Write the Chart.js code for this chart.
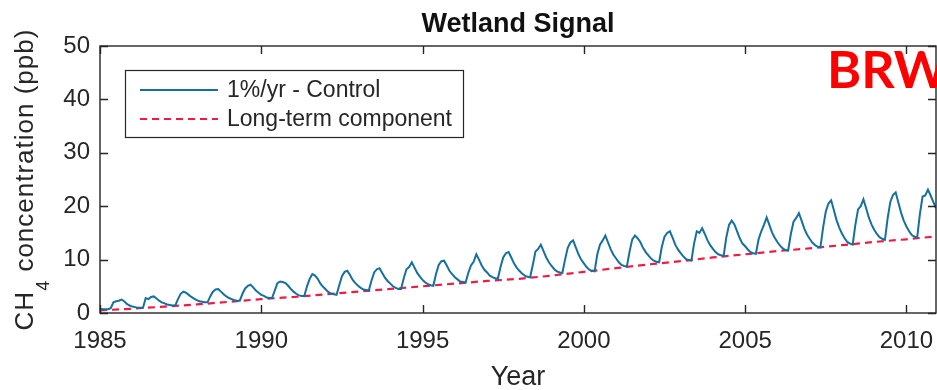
<!DOCTYPE html>
<html>
<head>
<meta charset="utf-8">
<title>Wetland Signal</title>
<script src="https://cdn.jsdelivr.net/npm/chart.js@4.4.1/dist/chart.umd.min.js"></script>
<style>
  html, body { margin: 0; padding: 0; background: #fff; }
  canvas { display: block; }
</style>
</head>
<body>
<canvas id="wetlandChart" width="937" height="390"></canvas>
<script>
// Axis ticks
const yearTicks = [1985, 1990, 1995, 2000, 2005, 2010];
const concTicks = [0, 10, 20, 30, 40, 50];

// 1%/yr control run, monthly CH4 (ppb), Jan..Dec, starting Jan 1985
const startYear = 1985;
const controlMonthly = [
  0.8, 0.7, 0.7, 0.7, 0.9, 2.0, 2.2, 2.3, 2.5, 2.2, 1.7, 1.4,         // 1985
  1.2, 1.1, 1.0, 1.0, 1.0, 2.8, 2.6, 3.0, 3.1, 2.7, 2.3, 2.0,         // 1986
  1.8, 1.6, 1.5, 1.4, 1.4, 2.6, 3.6, 4.0, 3.8, 3.4, 3.0, 2.7,         // 1987
  2.4, 2.2, 2.1, 2.0, 2.0, 3.1, 4.0, 4.4, 4.5, 4.0, 3.5, 3.1,         // 1988
  2.8, 2.6, 2.4, 2.3, 2.3, 3.6, 4.6, 5.1, 5.3, 4.8, 4.2, 3.8,         // 1989
  3.4, 3.2, 2.9, 2.8, 2.8, 4.2, 5.6, 5.9, 5.8, 5.6, 5.1, 4.5,         // 1990
  4.0, 3.6, 3.3, 3.2, 3.2, 5.0, 6.4, 7.3, 7.0, 6.4, 5.5, 4.9,         // 1991
  4.4, 3.9, 3.6, 3.5, 3.4, 5.2, 6.9, 7.7, 7.9, 7.1, 6.2, 5.6,         // 1992
  5.1, 4.7, 4.4, 4.3, 4.2, 6.1, 7.6, 8.2, 8.4, 7.5, 6.6, 6.0,         // 1993
  5.5, 5.0, 4.7, 4.5, 4.5, 6.5, 8.2, 8.6, 9.5, 8.5, 7.5, 6.8,         // 1994
  6.2, 5.7, 5.4, 5.2, 5.1, 7.3, 9.0, 9.7, 9.8, 8.9, 7.9, 7.3,         // 1995
  6.7, 6.3, 5.9, 5.8, 5.7, 7.5, 8.9, 9.6, 11.0, 10.0, 8.9, 8.1,       // 1996
  7.6, 7.0, 6.7, 6.5, 6.4, 8.6, 10.4, 11.2, 11.4, 10.4, 9.3, 8.5,     // 1997
  7.9, 7.4, 7.0, 6.8, 6.7, 9.0, 11.5, 12.0, 12.8, 11.6, 10.4, 9.5,    // 1998
  8.8, 8.2, 7.8, 7.6, 7.5, 10.0, 12.2, 13.2, 13.6, 12.3, 11.0, 10.0,  // 1999
  9.3, 8.6, 8.1, 7.9, 7.8, 11.0, 12.8, 13.6, 14.5, 13.2, 11.9, 10.9,  // 2000
  10.2, 9.5, 9.0, 8.8, 8.7, 11.5, 13.8, 14.5, 14.0, 13.3, 12.2, 11.4, // 2001
  10.8, 10.2, 9.8, 9.6, 9.5, 12.4, 14.3, 15.0, 15.3, 14.1, 12.8, 11.9, // 2002
  11.2, 10.6, 10.1, 9.9, 9.8, 13.0, 15.3, 15.0, 15.9, 14.8, 13.6, 12.7, // 2003
  12.0, 11.4, 11.0, 10.8, 10.7, 14.2, 16.5, 17.3, 16.6, 15.3, 14.0, 13.0, // 2004
  12.5, 11.9, 11.4, 11.2, 11.1, 13.8, 15.3, 16.5, 17.9, 16.5, 15.1, 14.1, // 2005
  13.3, 12.6, 12.1, 11.8, 11.7, 14.8, 17.1, 17.8, 18.7, 17.3, 15.8, 14.7, // 2006
  13.9, 13.2, 12.7, 12.4, 12.3, 16.0, 19.0, 20.5, 21.1, 19.3, 17.4, 16.0, // 2007
  14.9, 14.0, 13.3, 13.0, 12.8, 16.5, 19.4, 20.0, 21.3, 19.6, 17.9, 16.6, // 2008
  15.6, 14.8, 14.2, 13.9, 13.7, 17.7, 20.8, 22.1, 22.6, 20.7, 18.8, 17.3, // 2009
  16.2, 15.3, 14.6, 14.3, 14.1, 18.5, 21.8, 22.0, 23.1, 22.0, 20.8, 19.6  // 2010
];

// Long-term component, value at the start of each year
const longTermYears = [
  1985, 1986, 1987, 1988, 1989, 1990, 1991, 1992, 1993, 1994, 1995, 1996, 1997, 1998,
  1999, 2000, 2001, 2002, 2003, 2004, 2005, 2006, 2007, 2008, 2009, 2010, 2011
];
const longTermValues = [
  0.5, 0.8, 1.2, 1.6, 2.1, 2.6, 3.0, 3.5, 4.0, 4.5, 5.0, 5.5, 6.0, 6.4,
  7.0, 7.7, 8.4, 9.1, 9.7, 10.4, 11.0, 11.6, 12.1, 12.7, 13.3, 13.8, 14.4
];

const FONT = '"Liberation Sans", Arial, Helvetica, sans-serif';
const axisColor = '#262626';
const controlColor = '#16709f';
const trendColor = '#ee1c45';

const controlPoints = controlMonthly.map((v, i) => ({ x: startYear + i / 12, y: v }));
const trendPoints = longTermYears.map((yr, i) => ({ x: yr, y: longTermValues[i] }));
const lastTime = controlPoints[controlPoints.length - 1].x;

Chart.defaults.font.family = FONT;
Chart.defaults.color = axisColor;

// Box, inward ticks, legend and text labels in the MATLAB look
const matlabFrame = {
  id: 'matlabFrame',
  afterDatasetsDraw(chart) {
    const { ctx, chartArea: a, scales: { x, y } } = chart;
    const tickLen = 8;
    ctx.save();

    ctx.strokeStyle = axisColor;
    ctx.lineWidth = 1.4;
    ctx.strokeRect(a.left, a.top, a.right - a.left, a.bottom - a.top);

    ctx.beginPath();
    x.ticks.forEach(t => {
      const px = Math.round(x.getPixelForValue(t.value)) + 0.5;
      ctx.moveTo(px, a.bottom); ctx.lineTo(px, a.bottom - tickLen);
      ctx.moveTo(px, a.top); ctx.lineTo(px, a.top + tickLen);
    });
    y.ticks.forEach(t => {
      const py = Math.round(y.getPixelForValue(t.value)) + 0.5;
      ctx.moveTo(a.left, py); ctx.lineTo(a.left + tickLen, py);
      ctx.moveTo(a.right, py); ctx.lineTo(a.right - tickLen, py);
    });
    ctx.stroke();

    // legend box
    const lx = 125, ly = 70, lw = 338, lh = 67;
    ctx.fillStyle = '#fff';
    ctx.fillRect(lx, ly, lw, lh);
    ctx.lineWidth = 1.2;
    ctx.strokeRect(lx + 0.5, ly + 0.5, lw, lh);
    ctx.font = '23px ' + FONT;
    ctx.textBaseline = 'middle';
    ctx.textAlign = 'left';
    chart.data.datasets.forEach((ds, i) => {
      const rowY = ly + 20 + i * 29;
      ctx.beginPath();
      ctx.strokeStyle = ds.borderColor;
      ctx.lineWidth = ds.borderWidth;
      ctx.setLineDash(ds.borderDash || []);
      ctx.moveTo(lx + 15, rowY);
      ctx.lineTo(lx + 93, rowY);
      ctx.stroke();
      ctx.setLineDash([]);
      ctx.fillStyle = axisColor;
      ctx.fillText(ds.label, lx + 102, rowY + 1);
    });

    const midX = (a.left + a.right) / 2;
    const midY = (a.top + a.bottom) / 2;

    // title
    ctx.fillStyle = '#111';
    ctx.textBaseline = 'alphabetic';
    ctx.textAlign = 'center';
    ctx.font = 'bold 27px ' + FONT;
    ctx.fillText('Wetland Signal', midX, 32);

    // x axis title
    ctx.fillStyle = axisColor;
    ctx.font = '27px ' + FONT;
    ctx.fillText('Year', midX, 385);

    // y axis title with subscript
    ctx.save();
    ctx.translate(33, midY);
    ctx.rotate(-Math.PI / 2);
    ctx.textAlign = 'left';
    ctx.letterSpacing = '1px';
    const big = '26px ' + FONT, small = '18px ' + FONT;
    ctx.font = big;
    const w1 = ctx.measureText('CH').width;
    const w3 = ctx.measureText(' concentration (ppb)').width;
    ctx.font = small;
    const w2 = ctx.measureText('4').width;
    let sx = -(w1 + w2 + w3) / 2;
    ctx.font = big;
    ctx.fillText('CH', sx, 0);
    ctx.font = small;
    ctx.fillText('4', sx + w1, 16);
    ctx.font = big;
    ctx.fillText(' concentration (ppb)', sx + w1 + w2, 0);
    ctx.restore();

    // site tag
    ctx.textAlign = 'left';
    ctx.fillStyle = '#ff0000';
    ctx.font = 'bold 52px Lato, "Open Sans", sans-serif';
    ctx.fillText('BRW', 827, 88);

    ctx.restore();
  }
};

new Chart(document.getElementById('wetlandChart'), {
  type: 'line',
  data: {
    datasets: [
      {
        label: '1%/yr - Control',
        data: controlPoints,
        borderColor: controlColor,
        borderWidth: 2,
        pointRadius: 0,
        tension: 0,
        fill: false
      },
      {
        label: 'Long-term component',
        data: trendPoints,
        borderColor: trendColor,
        borderWidth: 2.2,
        borderDash: [7, 5],
        pointRadius: 0,
        tension: 0,
        fill: false
      }
    ]
  },
  options: {
    responsive: false,
    animation: false,
    layout: { padding: { left: 0, top: 46, right: 1, bottom: 0 } },
    plugins: {
      legend: { display: false },
      title: { display: false },
      tooltip: { enabled: false }
    },
    scales: {
      x: {
        type: 'linear',
        min: startYear,
        max: lastTime,
        grid: { display: false, drawTicks: false },
        border: { display: false },
        afterBuildTicks: scale => { scale.ticks = yearTicks.map(v => ({ value: v })); },
        afterFit: scale => {
          scale.height = 77;
          scale.paddingLeft = 0;
          scale.paddingRight = 0;
        },
        ticks: {
          autoSkip: false,
          maxRotation: 0,
          padding: 14,
          font: { size: 24 },
          callback: v => String(v)
        }
      },
      y: {
        min: 0,
        max: 50,
        grid: { display: false, drawTicks: false },
        border: { display: false },
        afterBuildTicks: scale => { scale.ticks = concTicks.map(v => ({ value: v })); },
        afterFit: scale => {
          scale.width = 100;
          scale.paddingTop = 0;
          scale.paddingBottom = 0;
        },
        ticks: {
          padding: 10,
          font: { size: 24 },
          callback: v => String(v)
        }
      }
    }
  },
  plugins: [matlabFrame]
});
</script>
</body>
</html>
